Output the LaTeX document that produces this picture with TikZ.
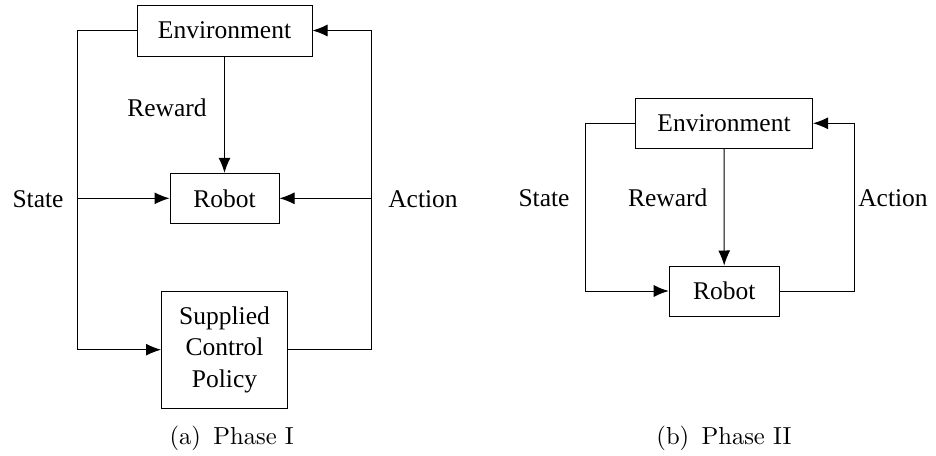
\documentclass[tikz,border=0pt]{standalone}
\usepackage{fontspec}
\newfontfamily\tnr{Liberation Serif}[Ligatures=TeX]
\newfontfamily\lmten{lmroman10-regular.otf}
\usetikzlibrary{arrows.meta}
\begin{document}
\begin{tikzpicture}[x=1pt,y=-1pt,
  box/.style={draw, line width=1pt, inner sep=0pt, align=center, font=\tnr\fontsize{25.5}{31.7}\selectfont},
  lab/.style={font=\tnr\fontsize{25.5}{31.7}\selectfont, inner sep=0pt},
  captext/.style={font=\lmten\fontsize{24.6}{29}\selectfont, inner sep=0pt},
  conn/.style={line width=1pt},
  arr/.style={line width=1pt, -{Latex[length=15pt,width=12pt]}}]
\useasboundingbox (0,0) rectangle (936,455);
% ---- Panel (a)
\node[box, minimum width=175pt, minimum height=51pt] (envA) at (224.5,30.5) {Environment};
\node[box, minimum width=109pt, minimum height=50pt] (robA) at (224.5,198.3) {Robot};
\node[box, minimum width=126pt, minimum height=117pt] (supA) at (224.5,349.7) {Supplied\\Control\\Policy};
\coordinate (LtA) at (77.3,30.5);
\coordinate (LmA) at (77.3,198.3);
\coordinate (LbA) at (77.3,349.7);
\coordinate (RtA) at (371.7,30.5);
\coordinate (RmA) at (371.7,198.3);
\coordinate (RbA) at (371.7,349.7);
\draw[conn] (envA.west) -- (LtA) -- (LbA);
\draw[arr] (LbA) -- (supA.west);
\draw[arr] (LmA) -- (robA.west);
\draw[conn] (supA.east) -- (RbA) -- (RtA);
\draw[arr] (RtA) -- (envA.east);
\draw[arr] (RmA) -- (robA.east);
\draw[arr] (envA.south) -- (robA.north);
\node[lab] (rewA) at (167,108) {Reward};
\node[lab] (staA) at (38,199) {State};
\node[lab] (actA) at (423,199) {Action};
\node[captext] (capA) at (231.7,438) {(a)\enspace Phase I};
% ---- Panel (b)
\node[box, minimum width=177pt, minimum height=50pt] (envB) at (724,123.3) {Environment};
\node[box, minimum width=110pt, minimum height=50pt] (robB) at (724.2,291) {Robot};
\coordinate (LB) at (585.7,200);
\coordinate (RB) at (854,200);
\draw[arr] (envB.west) -| (LB) |- (robB.west);
\draw[arr] (robB.east) -| (RB) |- (envB.east);
\draw[arr] (envB.south) -- (robB.north);
\node[lab] (staB) at (544,198) {State};
\node[lab] (rewB) at (667.7,198) {Reward};
\node[lab] (actB) at (893,198) {Action};
\node[captext] (capB) at (724,438) {(b)\enspace Phase II};
\end{tikzpicture}
\end{document}
